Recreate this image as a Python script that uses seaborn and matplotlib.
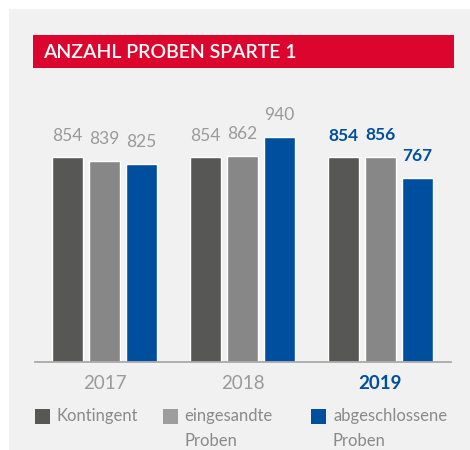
import matplotlib
matplotlib.use("Agg")
import matplotlib.pyplot as plt
import matplotlib.patches as mpatches
import seaborn as sns
import pandas as pd

years = ["2017", "2018", "2019"]
series = ["Kontingent", "eingesandte Proben", "abgeschlossene Proben"]
legend_labels = ["Kontingent", "eingesandte\nProben", "abgeschlossene\nProben"]
kontingent = [854, 854, 854]
eingesandt = [839, 862, 856]
abgeschlossen = [825, 940, 767]
title = "ANZAHL PROBEN SPARTE 1"

colors = ["#575756", "#878787", "#004f9f"]
legend_colors = ["#575756", "#9d9d9d", "#004f9f"]
gray_txt = "#9a9a9a"
blue_txt = "#004f9f"

sns.set_theme(style="white")
plt.rcParams["font.family"] = ["Lato", "DejaVu Sans"]

df = pd.DataFrame({
    "Jahr": years * 3,
    "Serie": [series[0]] * 3 + [series[1]] * 3 + [series[2]] * 3,
    "Anzahl": kontingent + eingesandt + abgeschlossen,
})

W, H = 470, 450
fig = plt.figure(figsize=(4.7, 4.5), dpi=100)
fig.patch.set_facecolor("white")

# background panel
fig.patches.append(mpatches.Rectangle((9 / W, 0), 1 - 9 / W, 1 - 9 / H,
                                      transform=fig.transFigure, facecolor="#f1f1f1",
                                      edgecolor="none", zorder=-10))
# red title bar
fig.patches.append(mpatches.Rectangle((33 / W, 1 - 68 / H), (454 - 33) / W, 33 / H,
                                      transform=fig.transFigure, facecolor="#dc052d",
                                      edgecolor="none", zorder=-5))
fig.text(43 / W, 1 - 52 / H, title, color="white", fontsize=14, fontweight="semibold",
         va="center", ha="left")

ax_top, ax_bot = 80, 361.5
ax = fig.add_axes([35 / W, 1 - ax_bot / H, 416 / W, (ax_bot - ax_top) / H])
ax.set_facecolor("none")

sns.barplot(data=df, x="Jahr", y="Anzahl", hue="Serie", hue_order=series,
            order=years, palette=colors, gap=0.16, width=0.8, saturation=1,
            legend=False, ax=ax)

ax.set_xlim(-0.504, 2.511)
ax.set_ylim(0, 1178)
for s in ["top", "right", "left"]:
    ax.spines[s].set_visible(False)
ax.spines["bottom"].set_color("#aaaaaa")
ax.spines["bottom"].set_linewidth(1.3)
ax.set_yticks([])
ax.set_xlabel("")
ax.set_ylabel("")
ax.tick_params(axis="x", length=0, pad=10)
ax.set_xticks(range(len(years)))
ax.set_xticklabels(years, fontsize=13.5)
for i, lab in enumerate(ax.get_xticklabels()):
    if i == len(years) - 1:
        lab.set_color(blue_txt)
        lab.set_fontweight("bold")
    else:
        lab.set_color(gray_txt)

for cont in ax.containers:
    for i, bar in enumerate(cont):
        last = i == len(years) - 1
        ax.annotate(f"{int(bar.get_height())}",
                    (bar.get_x() + bar.get_width() / 2, bar.get_height()),
                    xytext=(0, 10), textcoords="offset points",
                    ha="center", va="bottom", fontsize=12.5,
                    color=blue_txt if last else gray_txt,
                    fontweight="bold" if last else "normal")

# legend
sq_x = [35, 163, 311]
txt_x = [56, 184, 333]
for sx, tx, c, lab in zip(sq_x, txt_x, legend_colors, legend_labels):
    fig.patches.append(mpatches.Rectangle((sx / W, 1 - 424 / H), 15 / W, 15 / H,
                                          transform=fig.transFigure, facecolor=c,
                                          edgecolor="none"))
    fig.text(tx / W, 1 - 408 / H, lab, color="#8a8a8a", fontsize=12,
             va="top", ha="left", linespacing=1.7)

fig.savefig("out.png", dpi=100)
